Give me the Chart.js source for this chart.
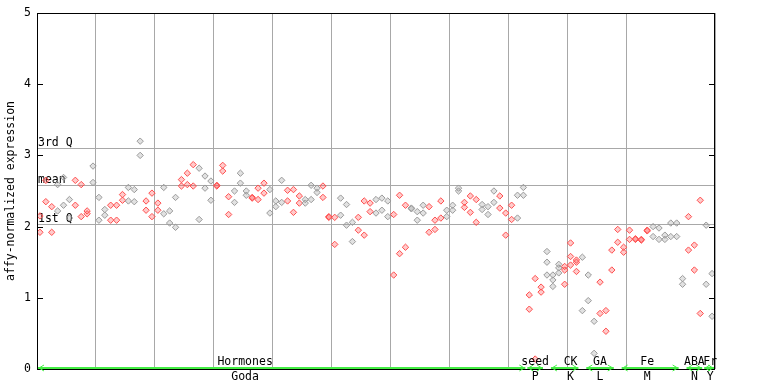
<!DOCTYPE html>
<html><head><meta charset="utf-8">
<script src="https://cdn.jsdelivr.net/npm/chart.js@4"></script>
<style>html,body{margin:0;padding:0;background:#fff}canvas{display:block}</style>
</head><body>
<canvas id="c" width="768" height="384"></canvas>
<script>
// replicate values per sample column (115 columns)
const rep1 = [2.15,2.65,2.28,2.59,2.69,2.38,2.65,2.59,2.22,2.85,
  2.41,2.24,2.30,2.30,2.45,2.55,2.52,3.20,2.36,2.47,
  2.33,2.55,2.22,2.41,2.66,2.75,2.87,2.82,2.71,2.64,
  2.57,2.86,2.42,2.50,2.75,2.50,2.41,2.54,2.61,2.52,
  2.36,2.65,2.51,2.52,2.43,2.38,2.58,2.54,2.57,2.13,
  2.13,2.40,2.31,2.06,2.13,2.36,2.33,2.38,2.40,2.36,
  2.17,2.44,2.30,2.26,2.21,2.30,2.28,2.09,2.36,2.23,
  2.30,2.54,2.34,2.43,2.38,2.31,2.28,2.50,2.43,2.19,
  2.30,2.44,2.55,1.04,1.27,1.15,1.65,1.32,1.47,1.44,
  1.77,1.53,1.57,1.32,0.67,1.22,0.82,1.67,1.96,1.71,
  1.95,1.82,1.82,1.95,2.00,1.98,1.88,2.05,2.05,1.27,
  2.14,1.74,2.37,2.02,1.34];
const rep2 = [1.92,2.35,1.92,2.22,2.30,2.12,2.30,2.14,2.18,2.62,
  2.09,2.16,2.09,2.09,2.37,2.36,2.35,3.00,2.23,2.14,
  2.23,2.18,2.05,1.99,2.57,2.59,2.57,2.10,2.54,2.37,
  2.58,2.78,2.17,2.34,2.61,2.44,2.40,2.38,2.47,2.19,
  2.28,2.34,2.36,2.20,2.33,2.33,2.38,2.48,2.41,2.14,
  1.75,2.16,2.02,1.79,1.95,1.88,2.21,2.19,2.23,2.14,
  1.32,1.62,1.71,2.25,2.09,2.19,1.92,1.96,2.12,2.14,
  2.23,2.50,2.27,2.20,2.06,2.24,2.17,2.34,2.26,1.88,
  2.10,2.12,2.44,0.84,0.14,1.08,1.50,1.25,1.42,1.39,
  1.58,1.50,0.82,0.96,0.22,0.78,0.53,1.39,1.78,1.64,
  1.82,1.83,1.81,1.94,1.86,1.82,1.82,1.86,1.86,1.19,
  1.67,1.39,0.78,1.19,0.74];
// third replicate, only for some columns
const rep3Index = [86,87,88,89,90,91];
const rep3Value = [1.32,1.16,1.35,1.19,1.46,1.37];
// T = treatment, C = control, per column
const sampleType = ("TTTCCCTTTCCCTTTCCCTTTCCCTTTCCCTTTCCCTTTCCCTTTCCCTTTCCCTTTCCCTTTCCCTTTCCCTTTCCCTTTCC" +
  "TTTCCCTTTCCCTTTTTTTTTCCCCCCTTTCC").split("");
// quartile reference lines
const refValues = [3.10, 2.58, 2.03];
const refLabels = ["3rd Q", "mean", "1st Q"];
// experiment groups
const groupTop = ["Hormones", "seed", "CK", "GA", "Fe", "ABA", "Fr"];
const groupBottom = ["Goda", "P", "K", "L", "M", "N", "Y"];
const groupStart = [0, 83, 87, 93, 99, 110, 113];
const groupEnd = [82, 85, 91, 97, 108, 112, 114];
const groupLabelCenter = [35.3, 84.5, 90.5, 95.5, 103.5, 111.5, 114.2];
const yTicks = [0, 1, 2, 3, 4, 5];
const yTitle = "affy-normalized expression";

const RED = "#ff4f4f", GRAY = "#9a9a9a";
const FONT = "11.5px 'DejaVu Sans Mono', monospace";

function pts(type) {
  const out = [];
  for (let i = 0; i < rep1.length; i++) {
    if (sampleType[i] !== type) continue;
    out.push({x: i + 0.5, y: rep1[i]});
    out.push({x: i + 0.5, y: rep2[i]});
    const k = rep3Index.indexOf(i);
    if (k >= 0) out.push({x: i + 0.5, y: rep3Value[k]});
  }
  return out;
}

const deco = {
  id: "deco",
  beforeDatasetsDraw(chart) {
    const {ctx, chartArea: a, scales: {x, y}} = chart;
    ctx.save();
    ctx.strokeStyle = "#a8a8a8"; ctx.lineWidth = 1;
    refValues.forEach(v => {
      const py = Math.round(y.getPixelForValue(v)) + 0.5;
      ctx.beginPath(); ctx.moveTo(a.left, py); ctx.lineTo(a.right, py); ctx.stroke();
    });
    ctx.fillStyle = "#000"; ctx.font = FONT; ctx.textAlign = "left"; ctx.textBaseline = "alphabetic";
    refValues.forEach((v, i) => {
      const py = y.getPixelForValue(v);
      ctx.fillText(refLabels[i], a.left + 1, py - 2);
    });
    ctx.restore();
  },
  afterDraw(chart) {
    const {ctx, chartArea: a, scales: {x, y}} = chart;
    ctx.save();
    // frame
    ctx.strokeStyle = "#000"; ctx.lineWidth = 1;
    ctx.strokeRect(a.left + 0.5, a.top + 0.5, a.right - a.left - 1, a.bottom - a.top);
    // y ticks (inside both sides) and labels
    ctx.font = FONT; ctx.fillStyle = "#000";
    ctx.textAlign = "right"; ctx.textBaseline = "middle";
    yTicks.forEach(v => {
      const py = Math.round(y.getPixelForValue(v)) + 0.5;
      ctx.beginPath();
      ctx.moveTo(a.left, py); ctx.lineTo(a.left + 6, py);
      ctx.moveTo(a.right - 6, py); ctx.lineTo(a.right, py);
      ctx.stroke();
      ctx.fillText(String(v), a.left - 6, py);
    });
    // y title
    ctx.save();
    ctx.translate(11, (a.top + a.bottom) / 2);
    ctx.rotate(-Math.PI / 2);
    ctx.textAlign = "center"; ctx.textBaseline = "middle";
    ctx.fillText(yTitle, 0, 0);
    ctx.restore();
    // group arrows
    const gy = a.bottom - 1;
    ctx.strokeStyle = "#44ee44"; ctx.fillStyle = "#44ee44"; ctx.lineWidth = 2;
    groupStart.forEach((s, i) => {
      const x0 = x.getPixelForValue(s) + 1;
      const x1 = Math.min(x.getPixelForValue(groupEnd[i] + 1) - 1, a.right - 1);
      ctx.beginPath(); ctx.moveTo(x0, gy); ctx.lineTo(x1, gy); ctx.stroke();
      ctx.lineWidth = 1;
      ctx.beginPath();
      ctx.moveTo(x0 + 6, gy - 3); ctx.lineTo(x0 + 1, gy); ctx.lineTo(x0 + 6, gy + 3);
      ctx.moveTo(x1 - 6, gy - 3); ctx.lineTo(x1 - 1, gy); ctx.lineTo(x1 - 6, gy + 3);
      ctx.stroke();
      ctx.lineWidth = 2;
    });
    ctx.fillStyle = "#000"; ctx.textAlign = "center"; ctx.textBaseline = "middle";
    groupLabelCenter.forEach((c, i) => {
      const px = x.getPixelForValue(c);
      ctx.fillText(groupTop[i], px, a.bottom - 7);
      ctx.fillText(groupBottom[i], px, a.bottom + 8);
    });
    ctx.restore();
  }
};

new Chart(document.getElementById("c"), {
  type: "scatter",
  data: {
    datasets: [
      {data: pts("C"), borderColor: GRAY, backgroundColor: "rgba(154,154,154,0.3)"},
      {data: pts("T"), borderColor: RED, backgroundColor: "rgba(255,79,79,0.3)"}
    ]
  },
  options: {
    responsive: false, animation: false, devicePixelRatio: 1,
    layout: {padding: {top: 13, right: 53, left: 0, bottom: 0}},
    elements: {point: {pointStyle: "rectRot", radius: 3.2, borderWidth: 1, hoverRadius: 3.2}},
    plugins: {legend: {display: false}, tooltip: {enabled: false}},
    scales: {
      x: {type: "linear", min: 0, max: 115,
          ticks: {display: false, stepSize: 10},
          grid: {color: "#a8a8a8", drawTicks: false, lineWidth: 1},
          border: {display: false},
          afterFit: s => { s.height = 15; }},
      y: {min: 0, max: 5,
          ticks: {display: false, stepSize: 1},
          grid: {display: false},
          border: {display: false},
          afterFit: s => { s.width = 37; }}
    }
  },
  plugins: [deco]
});
</script>
</body></html>
